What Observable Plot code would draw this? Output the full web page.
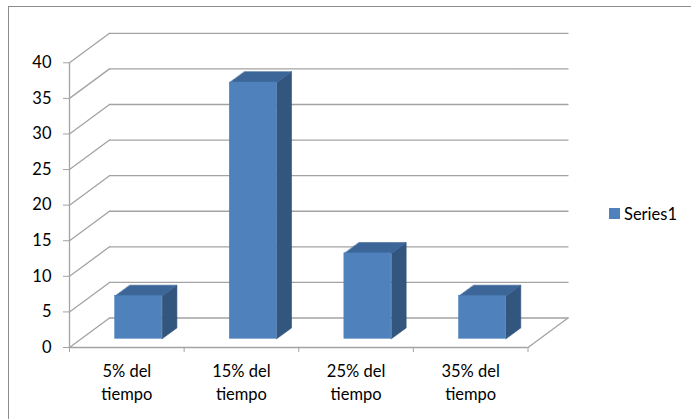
<!DOCTYPE html>
<html>
<head>
<meta charset="utf-8">
<script src="https://cdn.jsdelivr.net/npm/d3@7"></script>
<script src="https://cdn.jsdelivr.net/npm/@observablehq/plot@0.6"></script>
<style>
  html, body { margin: 0; padding: 0; background: #fff; }
  #wrap { position: relative; width: 691px; height: 419px; overflow: hidden; background: #fff; }
  #frame { position: absolute; left: 8px; top: 6px; width: 800px; height: 500px;
           border-left: 1px solid #8c8c8c; border-top: 1px solid #8c8c8c; pointer-events: none; }
  #legend { position: absolute; left: 609px; top: 197px; font-family: Lato, sans-serif; }
  #legend svg { margin-right: 4px !important; }
</style>
</head>
<body>
<div id="wrap"><div id="frame"></div><div id="chart"></div><div id="legend"></div></div>
<script>
// ---- data ----
const categories = ["5% del tiempo", "15% del tiempo", "25% del tiempo", "35% del tiempo"];
const values = [6, 36, 12, 6];
const seriesName = "Series1";
const yTicks = [0, 5, 10, 15, 20, 25, 30, 35, 40];

// ---- layout / style ----
const W = 691, H = 419;
const M = {top: 62.3, right: 163.5, bottom: 72, left: 69};
const yMax = 40;
const n = categories.length;
const depthPx = [40, 29.5];                 // oblique depth of the walls in pixels
const KX = depthPx[0] / ((W - M.left - M.right) / n);
const KY = depthPx[1] / ((H - M.top - M.bottom) / yMax);
const BAR_W = 0.41, D0 = 0.295, D1 = 0.665;
const gridColor = "#a3a3a3";
const cFront = "#4f81bd", cTop = "#3c6697", cSide = "#33567f";
const font = "Lato, sans-serif", fs = 16.5;

const P = (x, v, d) => ({x: x + d * KX, y: v + d * KY});

// wall grid lines (back wall + left side wall + floor edge)
const grid = [];
for (const t of yTicks) {
  grid.push({z: "b" + t, ...P(0, t, 1)}, {z: "b" + t, ...P(n, t, 1)});
  grid.push({z: "l" + t, ...P(0, t, 0)}, {z: "l" + t, ...P(0, t, 1)});
}
grid.push({z: "r", ...P(n, 0, 0)}, {z: "r", ...P(n, 0, 1)});

// bar faces
const fronts = values.map((v, i) => {
  const xa = i + (1 - BAR_W) / 2, xb = xa + BAR_W;
  return {x1: P(xa, 0, D0).x, x2: P(xb, 0, D0).x, y1: P(xa, 0, D0).y, y2: P(xa, v, D0).y};
});
const tops = [], sides = [];
values.forEach((v, i) => {
  const xa = i + (1 - BAR_W) / 2, xb = xa + BAR_W;
  [P(xa, v, D0), P(xb, v, D0), P(xb, v, D1), P(xa, v, D1)].forEach(p => tops.push({z: i, ...p}));
  [P(xb, 0, D0), P(xb, 0, D1), P(xb, v, D1), P(xb, v, D0)].forEach(p => sides.push({z: i, ...p}));
});

const chart = Plot.plot({
  width: W, height: H,
  marginTop: M.top, marginRight: M.right, marginBottom: M.bottom, marginLeft: M.left,
  style: {fontFamily: font, fontSize: fs + "px", background: "transparent", color: "#000"},
  x: {type: "linear", domain: [0, n]},
  y: {type: "linear", domain: [0, yMax]},
  marks: [
    Plot.line(grid, {x: "x", y: "y", z: "z", stroke: gridColor, strokeWidth: 1.3}),
    Plot.ruleY([0], {x1: 0, x2: n, stroke: gridColor, strokeWidth: 1.3}),
    Plot.ruleX([0], {y1: 0, y2: yMax, stroke: gridColor, strokeWidth: 1.3}),
    Plot.axisY({ticks: yTicks, tickSize: 6, tickPadding: 12, stroke: gridColor, fill: "#000", fontSize: fs, fontFamily: font, label: null}),
    Plot.axisX({ticks: d3.range(n + 1), tickSize: 5, tickFormat: () => "", stroke: gridColor, label: null}),
    Plot.line(sides, {x: "x", y: "y", z: "z", curve: "linear-closed", fill: cSide, stroke: cSide, strokeWidth: 0.6}),
    Plot.line(tops, {x: "x", y: "y", z: "z", curve: "linear-closed", fill: cTop, stroke: cTop, strokeWidth: 0.6}),
    Plot.rect(fronts, {x1: "x1", x2: "x2", y1: "y1", y2: "y2", fill: cFront, stroke: cFront, strokeWidth: 0.5}),
    Plot.text(categories, {
      x: (d, i) => i + 0.5, text: d => d.replace(" del ", " del\n"),
      frameAnchor: "bottom", lineAnchor: "top", dy: 13, lineHeight: 1.4,
      fontSize: fs, fontFamily: font, fill: "#000"
    })
  ]
});
document.getElementById("chart").appendChild(chart);

const legend = Plot.legend({
  color: {type: "ordinal", domain: [seriesName], range: [cFront]},
  swatchSize: 11,
  style: {fontFamily: font, fontSize: fs + "px", color: "#000"}
});
document.getElementById("legend").appendChild(legend);
</script>
</body>
</html>
